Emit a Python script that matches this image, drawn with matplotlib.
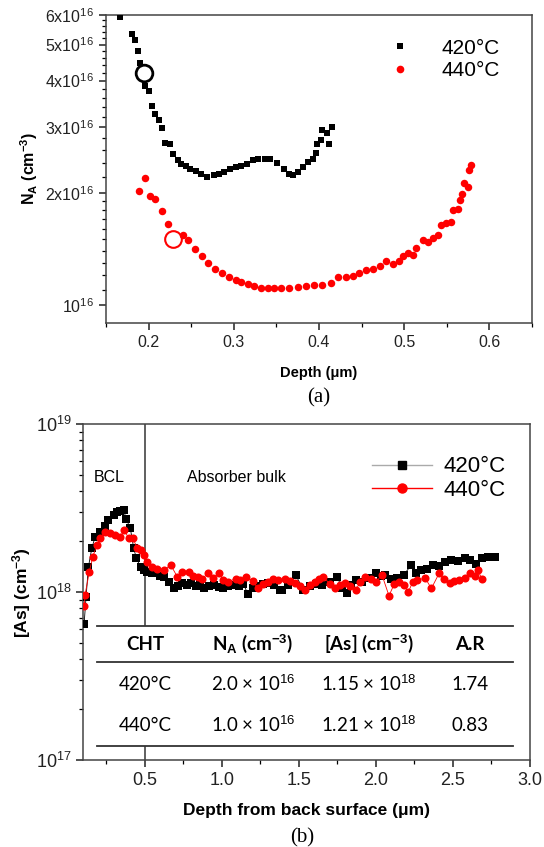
import numpy as np
import matplotlib
matplotlib.use("Agg")
import matplotlib.pyplot as plt
from matplotlib.ticker import LogLocator, FixedLocator, FixedFormatter, MultipleLocator, NullFormatter
from matplotlib.lines import Line2D
from matplotlib.patches import Rectangle

plt.rcParams['font.family'] = ['Liberation Sans', 'DejaVu Sans']
plt.rcParams['mathtext.fontset'] = 'custom'
plt.rcParams['mathtext.rm'] = 'Liberation Sans'
plt.rcParams['mathtext.bf'] = 'Liberation Sans:bold'
plt.rcParams['mathtext.it'] = 'Liberation Sans:italic'
plt.rcParams['mathtext.default'] = 'rm'

# ---------------- data: panel (a) ----------------
depth_a_420 = [0.1665, 0.181, 0.184, 0.187, 0.190, 0.196, 0.200, 0.204, 0.207, 0.212, 0.216, 0.219,
               0.225, 0.229, 0.234, 0.238, 0.244, 0.249, 0.255, 0.261, 0.269, 0.277, 0.283, 0.289,
               0.296, 0.302, 0.308, 0.316, 0.322, 0.328, 0.336, 0.343, 0.351, 0.359, 0.365, 0.369,
               0.375, 0.381, 0.387, 0.393, 0.396, 0.398, 0.402, 0.404, 0.409, 0.412, 0.415]
na_420 = [5.93, 5.35, 5.15, 4.81, 4.47, 3.87, 3.75, 3.42, 3.26, 3.13, 2.98, 2.72,
          2.71, 2.54, 2.45, 2.39, 2.36, 2.32, 2.29, 2.25, 2.21, 2.23, 2.24, 2.28,
          2.31, 2.35, 2.36, 2.39, 2.45, 2.47, 2.47, 2.46, 2.40, 2.32, 2.25, 2.23,
          2.28, 2.35, 2.42, 2.46, 2.55, 2.71, 2.77, 2.94, 2.89, 2.71, 3.01]  # x1e16

depth_a_440 = [0.189, 0.196, 0.202, 0.208, 0.216, 0.223, 0.240, 0.246, 0.254, 0.263, 0.270, 0.278,
               0.286, 0.294, 0.302, 0.308, 0.317, 0.324, 0.332, 0.340, 0.347, 0.355, 0.365, 0.375,
               0.385, 0.394, 0.404, 0.414, 0.422, 0.432, 0.440, 0.447, 0.455, 0.463, 0.471, 0.479,
               0.487, 0.494, 0.498, 0.504, 0.510, 0.514, 0.522, 0.528, 0.534, 0.540, 0.543, 0.549,
               0.555, 0.557, 0.563, 0.565, 0.568, 0.570, 0.575, 0.576, 0.578]
na_440 = [2.02, 2.19, 1.96, 1.92, 1.79, 1.65, 1.54, 1.49, 1.41, 1.35, 1.30, 1.25,
          1.22, 1.19, 1.17, 1.155, 1.14, 1.124, 1.113, 1.108, 1.108, 1.108, 1.108, 1.115,
          1.124, 1.13, 1.13, 1.143, 1.186, 1.19, 1.196, 1.22, 1.24, 1.25, 1.27, 1.31,
          1.29, 1.31, 1.35, 1.38, 1.36, 1.42, 1.49, 1.48, 1.51, 1.54, 1.64, 1.66,
          1.67, 1.80, 1.81, 1.91, 1.98, 2.12, 2.07, 2.30, 2.37]  # x1e16

circle_depth = [0.194, 0.229]
circle_na = [4.18, 1.50]  # x1e16

ytick_vals_a = [1, 2, 3, 4, 5, 6]  # x1e16
ytick_labels_a = ['10$^{16}$', '2x10$^{16}$', '3x10$^{16}$', '4x10$^{16}$', '5x10$^{16}$', '6x10$^{16}$']
xticks_a = [0.2, 0.3, 0.4, 0.5, 0.6]

# ---------------- data: panel (b) ----------------
depth_b_420 = [0.107, 0.120, 0.135, 0.157, 0.178, 0.211, 0.244, 0.265, 0.298, 0.320,
               0.342, 0.363, 0.381, 0.407, 0.429, 0.446, 0.473, 0.494, 0.516, 0.545,
               0.571, 0.598, 0.625, 0.655, 0.690, 0.715, 0.745, 0.775, 0.80, 0.83,
               0.86, 0.886, 0.92, 0.952, 0.98, 1.006, 1.04, 1.08, 1.11, 1.14,
               1.17, 1.20, 1.235, 1.27, 1.30, 1.34, 1.376, 1.39, 1.43, 1.48,
               1.53, 1.57, 1.61, 1.65, 1.70, 1.75, 1.78, 1.81, 1.84, 1.87,
               1.91, 1.95, 2.0, 2.03, 2.06, 2.10, 2.14, 2.18, 2.23, 2.26,
               2.29, 2.33, 2.37, 2.41, 2.45, 2.49, 2.53, 2.575, 2.61, 2.65,
               2.69, 2.73, 2.77]
as_420 = [0.645, 0.94, 1.41, 1.82, 2.12, 2.29, 2.47, 2.68, 2.87, 3.00,
          3.05, 3.08, 2.71, 2.39, 1.82, 1.59, 1.41, 1.35, 1.32, 1.30,
          1.29, 1.25, 1.23, 1.15, 1.05, 1.08, 1.13, 1.10, 1.13, 1.08,
          1.12, 1.05, 1.09, 1.10, 1.07, 1.05, 1.09, 1.10, 1.08, 1.12,
          0.97, 1.06, 1.08, 1.12, 1.13, 1.10, 1.03, 1.03, 1.10, 1.26,
          1.03, 1.08, 1.12, 1.10, 1.15, 1.23, 1.05, 0.98, 1.10, 1.18,
          1.15, 1.22, 1.29, 1.24, 1.26, 1.20, 1.22, 1.26, 1.45, 1.30,
          1.35, 1.38, 1.45, 1.42, 1.50, 1.55, 1.52, 1.59, 1.55, 1.47,
          1.60, 1.62, 1.62]  # x1e18

depth_b_440 = [0.108, 0.113, 0.141, 0.163, 0.190, 0.211, 0.244, 0.276, 0.309, 0.342,
               0.368, 0.396, 0.425, 0.451, 0.473, 0.494, 0.516, 0.549, 0.582, 0.625,
               0.669, 0.712, 0.745, 0.788, 0.815, 0.843, 0.875, 0.908, 0.945, 0.984,
               1.01, 1.04, 1.09, 1.12, 1.16, 1.20, 1.235, 1.27, 1.30, 1.335,
               1.366, 1.41, 1.44, 1.475, 1.51, 1.54, 1.57, 1.605, 1.63, 1.66,
               1.70, 1.735, 1.77, 1.80, 1.835, 1.87, 1.90, 1.93, 1.97, 2.00,
               2.04, 2.085, 2.12, 2.15, 2.18, 2.21, 2.24, 2.27, 2.32, 2.36,
               2.41, 2.44, 2.48, 2.51, 2.54, 2.58, 2.61, 2.64, 2.66, 2.69]
as_440 = [0.825, 0.96, 1.32, 1.62, 1.90, 2.09, 2.29, 2.24, 2.18, 2.14,
          2.34, 2.09, 2.09, 1.82, 1.79, 1.66, 1.51, 1.41, 1.38, 1.35,
          1.45, 1.23, 1.32, 1.32, 1.25, 1.23, 1.20, 1.29, 1.22, 1.29,
          1.18, 1.15, 1.20, 1.18, 1.23, 1.16, 1.05, 1.12, 1.15, 1.20,
          1.18, 1.19, 1.16, 1.13, 1.08, 1.03, 1.10, 1.15, 1.20, 1.23,
          1.12, 1.05, 1.10, 1.13, 1.08, 1.03, 1.15, 1.23, 1.20, 1.15,
          1.26, 0.95, 1.12, 1.15, 1.10, 1.00, 1.15, 1.18, 1.21, 1.05,
          1.29, 1.20, 1.13, 1.16, 1.18, 1.22, 1.29, 1.25, 1.35, 1.19]  # x1e18

bcl_boundary = 0.5
xticks_b = [0.5, 1.0, 1.5, 2.0, 2.5, 3.0]

table_header = ['CHT', r'N$_\mathbf{A}$ (cm$^{\mathbf{-3}}$)', r'[As] (cm$^{\mathbf{-3}}$)', 'A.R']
table_rows = [['420°C', r'2.0 × 10$^{16}$', r'1.15 × 10$^{18}$', '1.74'],
              ['440°C', r'1.0 × 10$^{16}$', r'1.21 × 10$^{18}$', '0.83']]

legend_labels = ['420°C', '440°C']

# ---------------- figure ----------------
fig = plt.figure(figsize=(5.44, 8.47), dpi=100)

# ---- panel (a)
ax1 = fig.add_axes([0.195, 0.6187, 0.783, 0.3636])
ax1.set_yscale('log')
ax1.plot(depth_a_420, np.array(na_420) * 1e16, 's', color='black', ms=5.0, mew=0, zorder=3)
ax1.plot(depth_a_440, np.array(na_440) * 1e16, 'o', color='red', ms=5.4, mew=0, zorder=3)
ax1.plot(circle_depth[0], circle_na[0] * 1e16, 'o', mfc='none', mec='black', ms=12, mew=2.0, zorder=4)
ax1.plot(circle_depth[1], circle_na[1] * 1e16, 'o', mfc='none', mec='red', ms=12, mew=1.5, zorder=4)
ax1.set_xlim(0.15, 0.65)
ax1.set_ylim(0.895e16, 6e16)
ax1.yaxis.set_major_locator(FixedLocator([v * 1e16 for v in ytick_vals_a]))
ax1.yaxis.set_major_formatter(FixedFormatter(ytick_labels_a))
minor_a = [v * 1e16 for v in list(np.arange(1.1, 2.0, 0.1)) + list(np.arange(2.2, 6.0, 0.2))]
ax1.yaxis.set_minor_locator(FixedLocator(minor_a))
ax1.yaxis.set_minor_formatter(NullFormatter())
ax1.xaxis.set_major_locator(FixedLocator(xticks_a))
ax1.xaxis.set_minor_locator(MultipleLocator(0.05))
ax1.tick_params(which='major', direction='out', length=5, width=1.1, labelsize=11.5, colors='#222222')
ax1.tick_params(which='minor', direction='out', length=3, width=0.9)
for s in ax1.spines.values():
    s.set_linewidth(1.1)
    s.set_color('#444444')
ax1.set_xlabel('Depth (μm)', fontsize=10.5, fontweight='bold', labelpad=12)
ax1.set_ylabel(r'N$_\mathbf{A}$ (cm$^{\mathbf{-3}}$)', fontsize=11.5, fontweight='bold', labelpad=4)
h1 = [Line2D([], [], ls='none', marker='s', color='black', ms=5, mew=0),
      Line2D([], [], ls='none', marker='o', color='red', ms=5.5, mew=0)]
ax1.legend(h1, legend_labels, loc='upper right', bbox_to_anchor=(0.945, 0.95), frameon=False,
           fontsize=15, handletextpad=1.0, labelspacing=0.15, borderaxespad=0)
fig.text(0.586, 1 - 398 / 847, '(a)', fontsize=15, family='Liberation Serif', ha='center', va='center')

# ---- panel (b)
ax2 = fig.add_axes([0.1526, 0.1027, 0.8217, 0.3967])
ax2.set_yscale('log')
ax2.plot(depth_b_420, np.array(as_420) * 1e18, '-s', color='black', ms=5.3, mew=0, lw=0.6, zorder=3)
ax2.plot(depth_b_440, np.array(as_440) * 1e18, '-o', color='red', ms=5.8, mew=0, lw=0.6, zorder=3)
ax2.axvline(bcl_boundary, color='#444444', lw=1.2, zorder=2)
ax2.set_xlim(0.1, 3.0)
ax2.set_ylim(1e17, 1e19)
ax2.xaxis.set_major_locator(FixedLocator(xticks_b))
ax2.xaxis.set_minor_locator(MultipleLocator(0.25))
ax2.yaxis.set_major_locator(LogLocator(base=10, numticks=5))
ax2.yaxis.set_minor_locator(LogLocator(base=10, subs=np.arange(2, 10), numticks=20))
ax2.yaxis.set_minor_formatter(NullFormatter())
ax2.tick_params(which='major', direction='out', length=5, width=1.1, labelsize=13, colors='#222222')
ax2.tick_params(which='minor', direction='out', length=3, width=0.9)
for s in ax2.spines.values():
    s.set_linewidth(1.1)
    s.set_color('#444444')
ax2.set_xlabel('Depth from back surface (μm)', fontsize=12.5, fontweight='bold', labelpad=10)
ax2.set_ylabel(r'[As] (cm$^{\mathbf{-3}}$)', fontsize=12.5, fontweight='bold', labelpad=2)
ax2.text(0.025, 0.84, 'BCL', transform=ax2.transAxes, fontsize=11.5, ha='left', va='center')
ax2.text(0.232, 0.84, 'Absorber bulk', transform=ax2.transAxes, fontsize=11.5, ha='left', va='center')
h2 = [Line2D([], [], ls='-', color='#aaaaaa', lw=1, marker='s', mfc='black', mec='black', ms=6),
      Line2D([], [], ls='-', color='red', lw=1, marker='o', mfc='red', mec='red', ms=6.5)]
ax2.legend(h2, legend_labels, loc='upper right', bbox_to_anchor=(0.965, 0.93), frameon=False,
           fontsize=16, handlelength=2.7, handletextpad=0.5, labelspacing=0.1, borderaxespad=0)

# table inside panel (b)
tx0, tx1 = 0.031, 0.962
ty_top, ty_head, ty_bot = 0.399, 0.292, 0.042
ax2.add_patch(Rectangle((tx0, ty_bot), tx1 - tx0, ty_top - ty_bot, transform=ax2.transAxes,
                        facecolor='white', edgecolor='none', zorder=5))
for yy in (ty_top, ty_head, ty_bot):
    ax2.plot([tx0, tx1], [yy, yy], transform=ax2.transAxes, color='#333333', lw=1.3, zorder=6)
col_x = [0.139, 0.380, 0.640, 0.865]
row_y = [0.226, 0.104]
for cx, txt in zip(col_x, table_header):
    ax2.text(cx, 0.345, txt, transform=ax2.transAxes, ha='center', va='center', fontsize=13.5,
             fontweight='bold', family=['Lato', 'DejaVu Sans'], zorder=7)
for ry, row in zip(row_y, table_rows):
    for cx, txt in zip(col_x, row):
        ax2.text(cx, ry, txt, transform=ax2.transAxes, ha='center', va='center', fontsize=13.5,
                 family=['Lato', 'DejaVu Sans'], zorder=7)
fig.text(0.555, 1 - 838 / 847, '(b)', fontsize=15, family='Liberation Serif', ha='center', va='center')

fig.savefig('out.png', dpi=100)
